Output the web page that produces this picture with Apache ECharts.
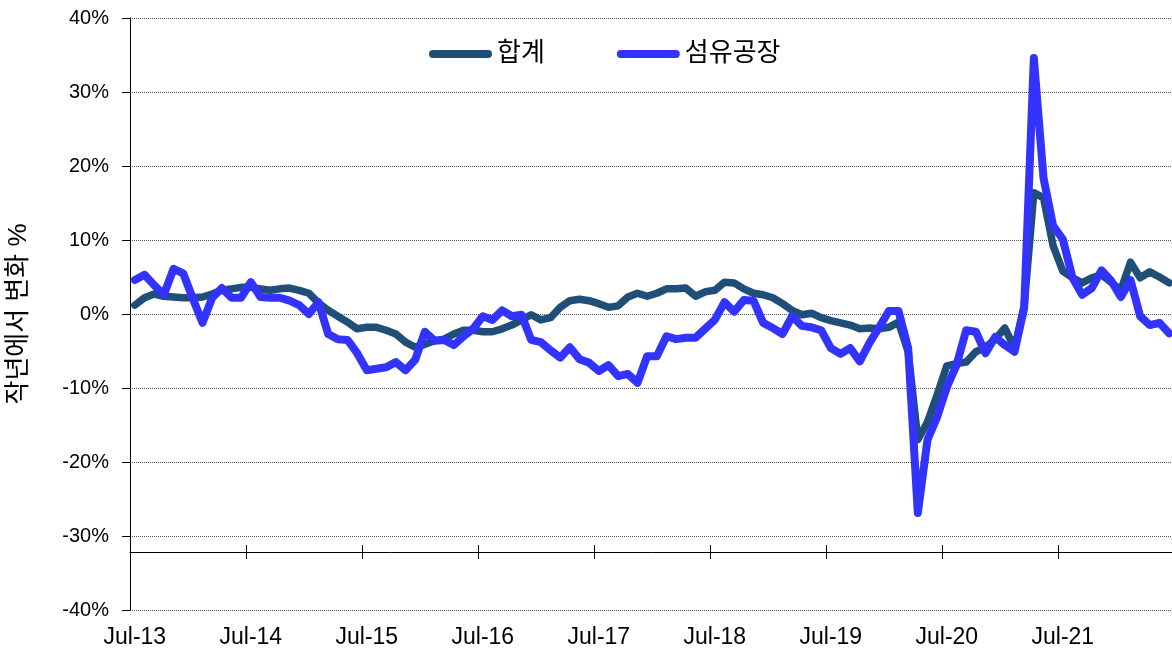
<!DOCTYPE html>
<html>
<head>
<meta charset="utf-8">
<script src="https://cdn.jsdelivr.net/npm/echarts@6/dist/echarts.min.js"></script>
<style>
  html, body { margin: 0; padding: 0; background: #fff; }
  #chart { width: 1172px; height: 656px; }
</style>
</head>
<body>
<div id="chart"></div>
<script>
// monthly, Jul-13 .. Jun-22
var monthNames = ['Jan', 'Feb', 'Mar', 'Apr', 'May', 'Jun', 'Jul', 'Aug', 'Sep', 'Oct', 'Nov', 'Dec'];
var months = [];
for (var i = 0; i < 108; i++) {
  var m = (6 + i) % 12;
  var y = 13 + Math.floor((6 + i) / 12);
  months.push(monthNames[m] + '-' + y);
}

var total = [
  1.2, 2.2, 2.7, 2.4, 2.3, 2.2, 2.2, 2.3, 2.7, 3.2, 3.4, 3.6,
  3.6, 3.4, 3.2, 3.4, 3.5, 3.2, 2.8, 1.5, 0.5, -0.3, -1.1, -2.0,
  -1.8, -1.8, -2.2, -2.7, -3.8, -4.5, -4.1, -3.6, -3.4, -2.7, -2.2, -2.2,
  -2.4, -2.4, -2.0, -1.5, -0.8, -0.1, -0.8, -0.5, 0.9, 1.8, 2.0, 1.8,
  1.4, 0.9, 1.1, 2.3, 2.8, 2.4, 2.8, 3.4, 3.4, 3.5, 2.4, 3.0,
  3.2, 4.3, 4.2, 3.4, 2.8, 2.6, 2.2, 1.4, 0.5, -0.1, 0.1, -0.5,
  -0.9, -1.2, -1.5, -2.0, -1.9, -2.0, -1.8, -1.1, -5.1, -17.0, -14.6, -10.9,
  -7.0, -6.7, -6.5, -5.1, -4.5, -3.4, -1.9, -4.6, 1.1, 16.4, 15.7, 9.2,
  5.8, 4.9, 4.2, 4.9, 5.3, 4.3, 3.2, 7.0, 4.9, 5.7, 5.0, 4.2
];

var textile = [
  4.6, 5.3, 3.9, 2.6, 6.1, 5.5, 2.1, -1.2, 2.2, 3.5, 2.2, 2.2,
  4.3, 2.3, 2.2, 2.2, 1.8, 1.2, 0.0, 1.6, -2.7, -3.4, -3.5, -5.3,
  -7.6, -7.4, -7.2, -6.5, -7.6, -6.2, -2.4, -3.6, -3.5, -4.2, -3.0, -2.0,
  -0.3, -0.8, 0.5, -0.3, -0.1, -3.5, -3.8, -4.9, -5.9, -4.5, -6.1, -6.6,
  -7.7, -6.9, -8.4, -8.1, -9.3, -5.7, -5.7, -3.0, -3.4, -3.2, -3.2, -2.0,
  -0.8, 1.6, 0.3, 1.9, 1.8, -1.2, -1.9, -2.7, -0.3, -1.6, -1.8, -2.2,
  -4.6, -5.4, -4.6, -6.4, -3.9, -1.8, 0.4, 0.4, -4.6, -26.9, -17.0, -13.9,
  -9.9, -6.9, -2.2, -2.4, -5.3, -3.1, -4.2, -5.1, 0.8, 34.6, 18.4, 11.9,
  10.1, 4.9, 2.6, 3.5, 5.9, 4.5, 2.3, 4.6, -0.3, -1.5, -1.2, -2.6
];

var seriesNames = ['합계', '섬유공장'];
var seriesColors = ['#1F4E79', '#3333FF'];
var yTicks = { min: -40, max: 40, step: 10 };

var font = "'Liberation Sans', Arial, 'Noto Sans CJK KR', sans-serif";
var pill = 'path://M4,0 L60,0 A4,4 0 0 1 60,8 L4,8 A4,4 0 0 1 4,0 Z';

var chart = echarts.init(document.getElementById('chart'));
var option = {
  animation: false,
  backgroundColor: '#fff',
  textStyle: { fontFamily: font },
  legend: {
    left: 424,
    top: 36,
    itemWidth: 63,
    itemHeight: 8,
    itemGap: 72,
    textStyle: { fontFamily: font, fontSize: 26, color: '#000' },
    data: [
      { name: seriesNames[0], icon: pill },
      { name: seriesNames[1], icon: pill }
    ]
  },
  grid: [
    { left: 130, top: 18, width: 1044, height: 592, outerBoundsMode: 'none', containLabel: false },
    { left: 130, top: 18, width: 1044, height: 534, outerBoundsMode: 'none', containLabel: false }
  ],
  xAxis: [
    {
      gridIndex: 0,
      type: 'category',
      data: months,
      boundaryGap: true,
      axisLine: { show: false },
      axisTick: { show: false },
      axisLabel: {
        interval: 11,
        margin: 16,
        fontSize: 23,
        color: '#000',
        fontFamily: font
      },
      splitLine: { show: false }
    },
    {
      gridIndex: 1,
      type: 'category',
      data: months,
      boundaryGap: true,
      position: 'bottom',
      axisLine: { show: true, onZero: false, lineStyle: { color: '#000', width: 1 } },
      axisTick: { show: true, interval: 11, length: 7, inside: false, lineStyle: { color: '#000' } },
      axisLabel: { show: false },
      splitLine: { show: false }
    },
    {
      gridIndex: 1,
      type: 'category',
      data: months,
      boundaryGap: true,
      position: 'bottom',
      axisLine: { show: false, onZero: false },
      axisTick: { show: true, interval: 11, length: 7, inside: true, lineStyle: { color: '#000' } },
      axisLabel: { show: false },
      splitLine: { show: false }
    }
  ],
  yAxis: [
    {
      gridIndex: 0,
      type: 'value',
      min: yTicks.min,
      max: yTicks.max,
      interval: yTicks.step,
      name: '작년에서 변화 %',
      nameLocation: 'middle',
      nameRotate: 90,
      nameGap: 98,
      nameTextStyle: { fontFamily: font, fontSize: 26, color: '#000' },
      axisLine: { show: true, lineStyle: { color: '#000', width: 1 } },
      axisTick: { show: true, length: 8, lineStyle: { color: '#000' } },
      axisLabel: {
        formatter: '{value}%',
        margin: 21,
        fontSize: 20,
        color: '#000',
        fontFamily: font
      },
      splitLine: { show: true, lineStyle: { type: 'dotted', color: '#555', width: 1 } }
    },
    {
      gridIndex: 1,
      type: 'value',
      show: false,
      min: 0,
      max: 1
    }
  ],
  series: [
    {
      name: seriesNames[0],
      type: 'line',
      xAxisIndex: 0,
      yAxisIndex: 0,
      data: total,
      symbol: 'none',
      color: seriesColors[0],
      lineStyle: { width: 7.5, color: seriesColors[0], cap: 'round', join: 'round' },
      z: 3
    },
    {
      name: seriesNames[1],
      type: 'line',
      xAxisIndex: 0,
      yAxisIndex: 0,
      data: textile,
      symbol: 'none',
      color: seriesColors[1],
      lineStyle: { width: 8, color: seriesColors[1], cap: 'round', join: 'round' },
      z: 4
    }
  ]
};
chart.setOption(option);
</script>
</body>
</html>
